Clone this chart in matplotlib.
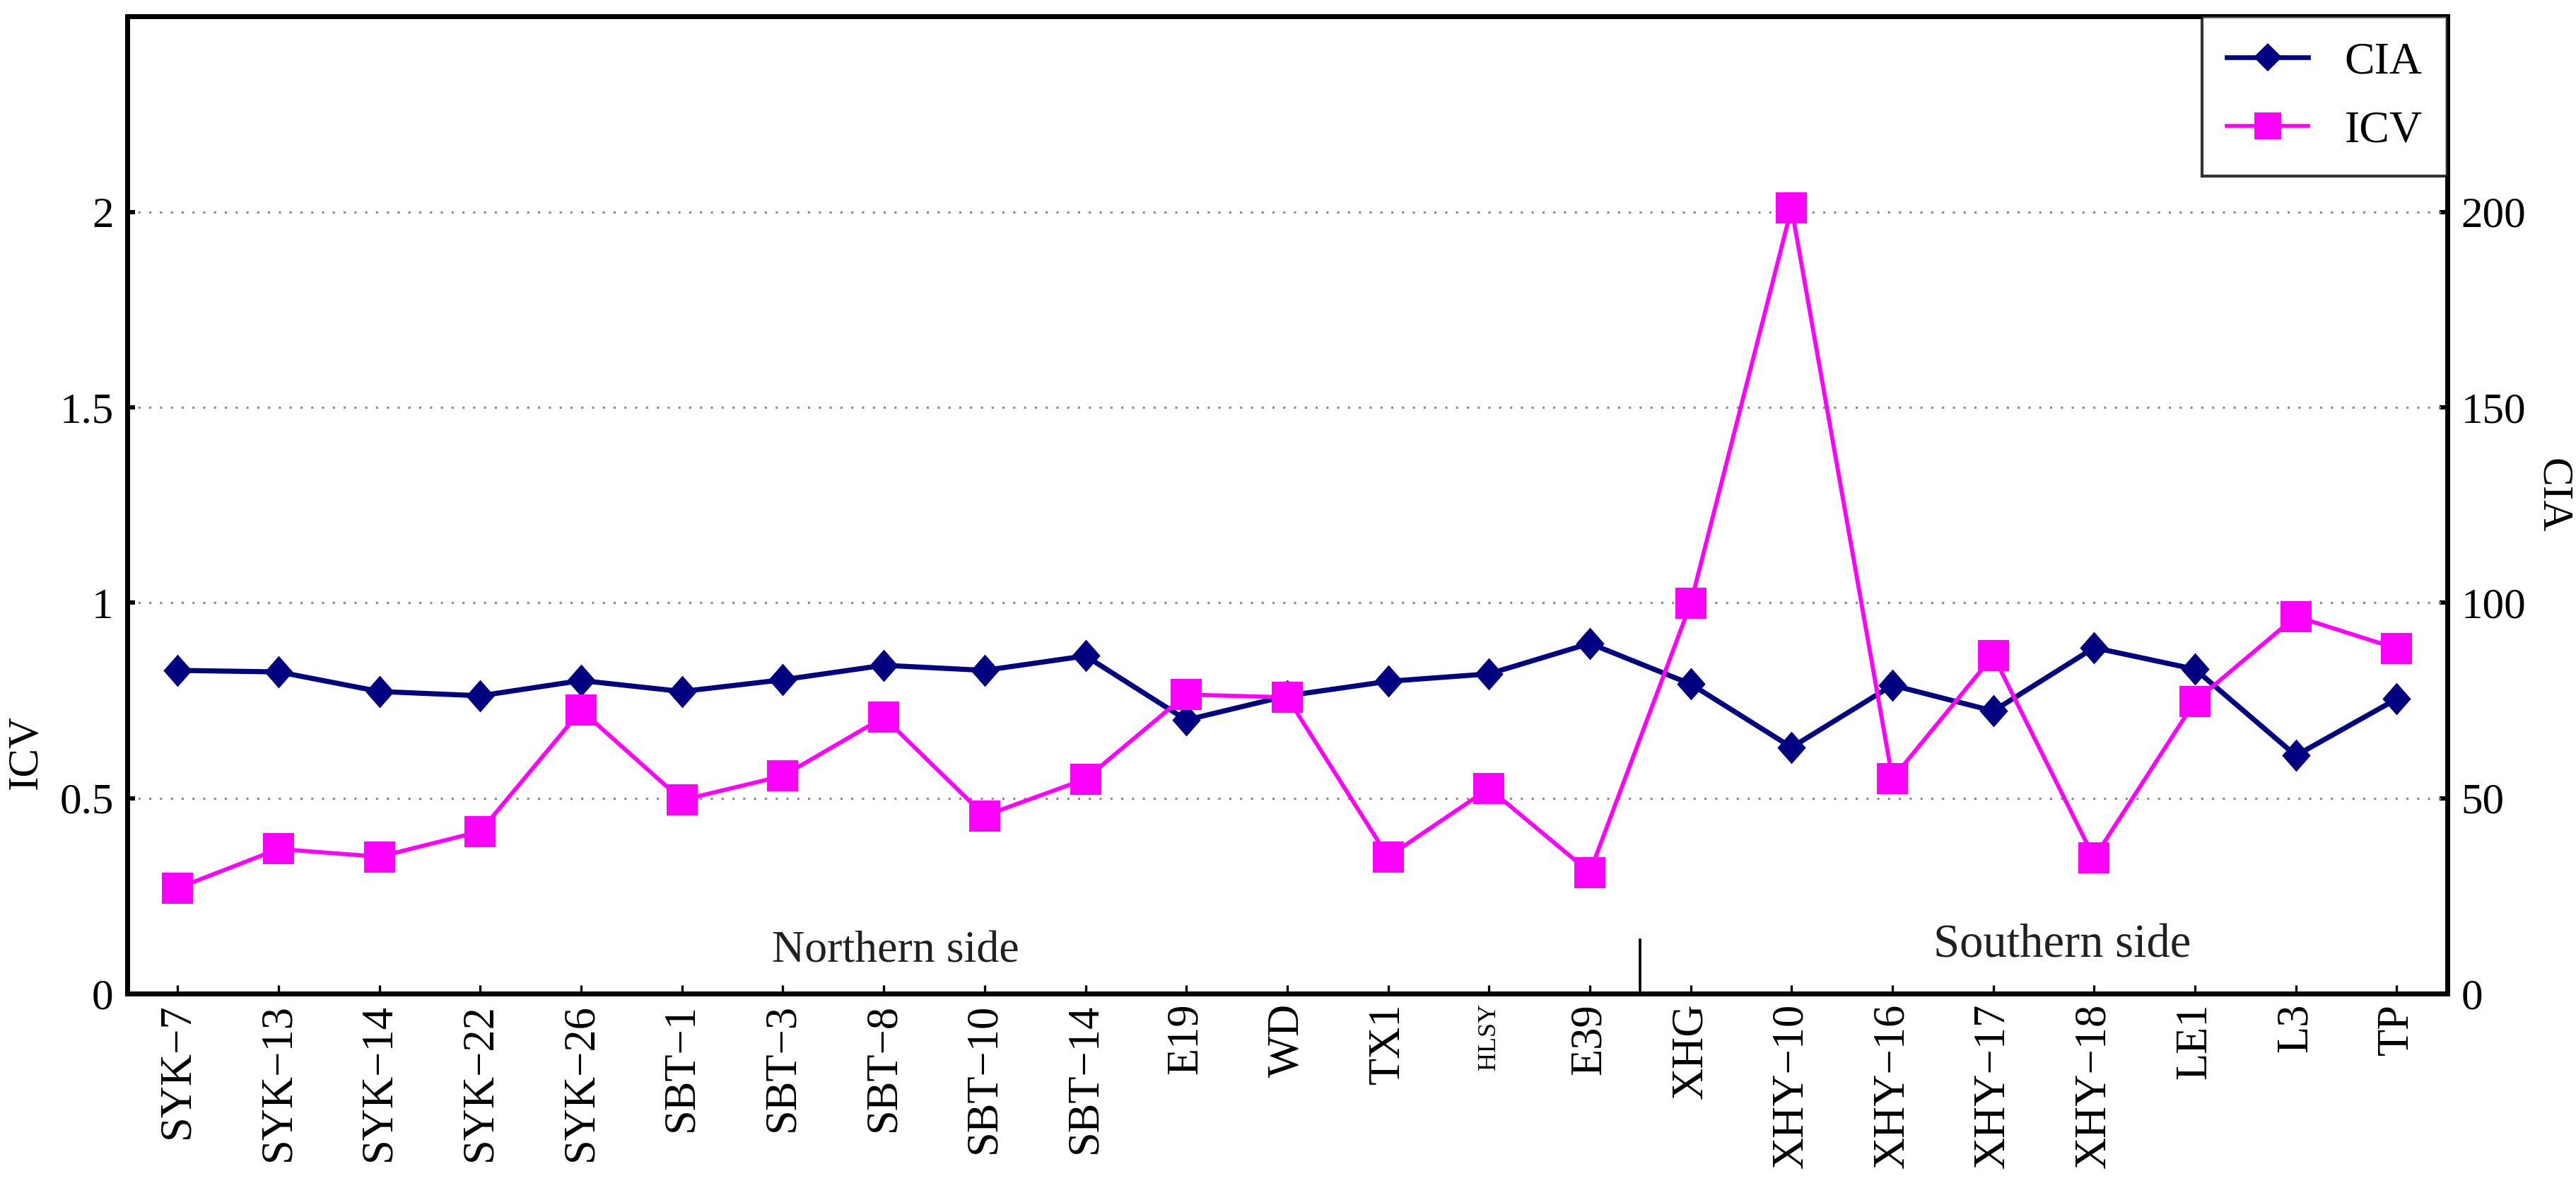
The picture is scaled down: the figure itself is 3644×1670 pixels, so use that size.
import matplotlib
matplotlib.use('Agg')
import matplotlib.pyplot as plt
from matplotlib.lines import Line2D

plt.rcParams['font.family'] = ['Liberation Serif', 'DejaVu Serif']

samples = ['SYK−7', 'SYK−13', 'SYK−14', 'SYK−22', 'SYK−26', 'SBT−1', 'SBT−3',
           'SBT−8', 'SBT−10', 'SBT−14', 'E19', 'WD', 'TX1', 'HLSY', 'E39',
           'XHG', 'XHY−10', 'XHY−16', 'XHY−17', 'XHY−18', 'LE1', 'L3', 'TP']
cia = [82.7, 82.3, 77.3, 76.2, 80.1, 77.3, 80.3, 84.0, 82.7, 86.4, 70.0,
       76.2, 79.9, 81.8, 89.6, 79.2, 63.0, 78.9, 72.3, 88.5, 83.0, 60.9, 75.4]
icv = [0.27, 0.37, 0.35, 0.415, 0.725, 0.495, 0.557, 0.707, 0.455, 0.549,
       0.765, 0.758, 0.35, 0.525, 0.31, 0.998, 2.01, 0.55, 0.865, 0.347,
       0.748, 0.965, 0.883]
icv_ticks = [0, 0.5, 1, 1.5, 2]
cia_ticks = [0, 50, 100, 150, 200]

NAVY = '#000080'
PINK = '#FF00FF'
diamond = [(0, 1), (0.88, 0), (0, -1), (-0.88, 0), (0, 1)]

fig = plt.figure(figsize=(18.22, 8.35), dpi=200)
ax = fig.add_axes([0.0494, 0.1587, 0.9006, 0.8273])
ax2 = ax.twinx()
ax.set_zorder(ax2.get_zorder() + 1)
ax.patch.set_visible(False)

x = list(range(len(samples)))

ax2.plot(x, cia, '-', color=NAVY, lw=2.6, marker=diamond, markersize=16.5,
         markeredgewidth=0, label='CIA')
ax.plot(x, icv, '-', color=PINK, lw=2.1, marker='s', markersize=15.5,
        markeredgewidth=0, label='ICV')

ax.set_xlim(-0.5, len(samples) - 0.5)
ax.set_ylim(0, 2.5)
ax2.set_ylim(0, 250)
ax.set_yticks(icv_ticks)
ax.set_yticklabels(['0', '0.5', '1', '1.5', '2'])
ax2.set_yticks(cia_ticks)

for v in icv_ticks[1:]:
    ax.axhline(v, color='#888888', lw=1.1, ls=(0, (1, 4)), zorder=0)

ax.set_xticks(x)
ax.set_xticklabels(samples, rotation=90)

ax.tick_params(axis='x', direction='in', length=4.5, width=1.2,
               labelsize=22.5, pad=5)
ax.tick_params(axis='y', direction='in', length=4, width=2.2,
               labelsize=22, pad=7)
ax2.tick_params(axis='y', direction='in', length=4, width=2.2,
                labelsize=22, pad=7)
for lab in ax.get_xticklabels():
    if lab.get_text() == 'HLSY':
        lab.set_fontsize(13)

for a in (ax, ax2):
    for s in a.spines.values():
        s.set_linewidth(2.5)

ax.set_ylabel('ICV', fontsize=22, va='center')
ax.yaxis.set_label_coords(-0.0436, 0.247)
ax2.set_ylabel('CIA', fontsize=22, rotation=270, va='center')
ax2.yaxis.set_label_coords(1.0454, 0.51)

# boundary between the two sides
ax.plot([14.5, 14.5], [0, 0.138], color='black', lw=1.3)
ax.text(7.12, 0.107, 'Northern side', fontsize=23, color='#231F20',
        ha='center', va='center')
ax.text(18.68, 0.123, 'Southern side', fontsize=24, color='#231F20',
        ha='center', va='center')

handles = [Line2D([], [], color=NAVY, lw=2.4, marker='D', markersize=10,
                  markeredgewidth=0),
           Line2D([], [], color=PINK, lw=2.0, marker='s', markersize=14,
                  markeredgewidth=0)]
leg = ax.legend(handles, ['CIA', 'ICV'], loc='upper right', fontsize=23,
                frameon=True, fancybox=False, borderaxespad=0,
                handlelength=1.8, handletextpad=0.8, labelspacing=0.6,
                borderpad=0.55)
leg.get_frame().set_edgecolor('black')
leg.get_frame().set_linewidth(1.5)

fig.savefig('out.png', dpi=200)
